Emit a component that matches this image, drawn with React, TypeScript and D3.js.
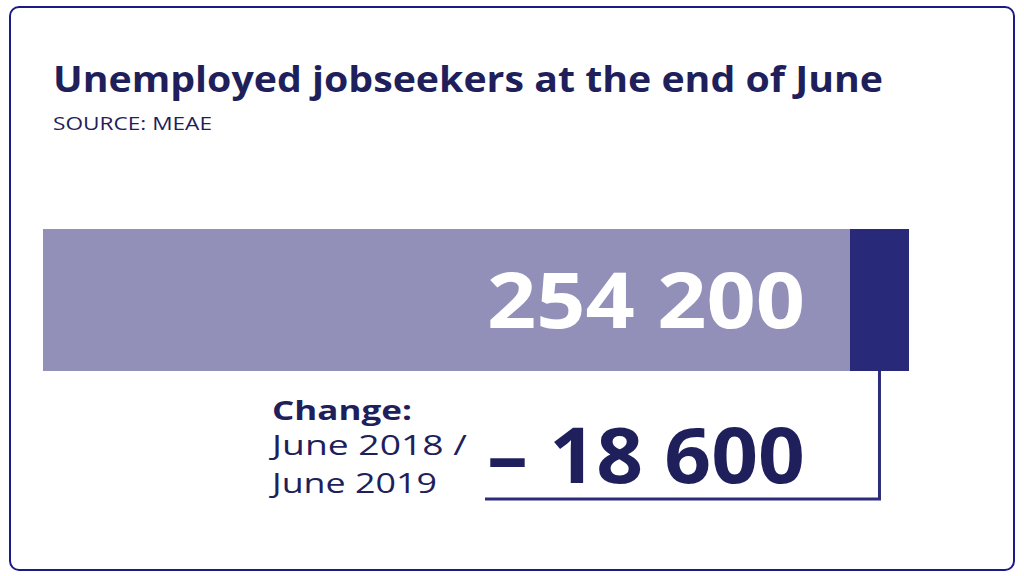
import React from "react";
import * as d3 from "d3";

const title = "Unemployed jobseekers at the end of June";
const source = "SOURCE: MEAE";
const currentValue = 254200;
const changeValue = -18600;
const changeLabels = ["Change:", "June 2018 /", "June 2019"];

const fmt = (v: number) => d3.format(",")(Math.abs(v)).replace(/,/g, " ");

export default function App() {
  const W = 1024, H = 576;
  const prevValue = currentValue - changeValue;
  const x = d3.scaleLinear().domain([0, prevValue]).range([43, 909]);
  const barTop = 229, barBottom = 371;
  const dark = "#29297a";
  const textDark = "#1f1f5c";
  const font = "'Open Sans', sans-serif";
  const connX = (x(currentValue) + x(prevValue)) / 2;
  const connY = 499;
  return (
    <svg width={W} height={H} style={{ position: "absolute", left: 0, top: 0 }}>
      <rect x={0} y={0} width={W} height={H} fill="#fff" />
      <rect x={10} y={7} width={1004} height={563} rx={9} fill="#fff" stroke="#1c1a86" strokeWidth={2} />
      <text x={53} y={92} fontFamily={font} fontWeight={700} fontSize={36} fill={textDark}
        textLength={830} lengthAdjust="spacingAndGlyphs">{title}</text>
      <text x={53} y={130} fontFamily={font} fontSize={18} fill={textDark}
        textLength={159} lengthAdjust="spacingAndGlyphs">{source}</text>
      <rect x={x(0)} y={barTop} width={x(currentValue) - x(0)} height={barBottom - barTop} fill="#9290b8" />
      <rect x={x(currentValue)} y={barTop} width={x(prevValue) - x(currentValue)} height={barBottom - barTop} fill={dark} />
      <text x={805} y={328} textAnchor="end" fontFamily={font} fontWeight={700} fontSize={77} fill="#fff"
        textLength={318} lengthAdjust="spacingAndGlyphs">{fmt(currentValue)}</text>
      <path d={`M${connX},${barBottom} V${connY} H485`} fill="none" stroke="#2c2c7c" strokeWidth={3} />
      <text x={805} y={483} textAnchor="end" fontFamily={font} fontWeight={700} fontSize={77} fill={textDark}
        textLength={318} lengthAdjust="spacingAndGlyphs">{"– " + fmt(changeValue)}</text>
      <text x={272} y={420} fontFamily={font} fontWeight={700} fontSize={27} fill={textDark}
        textLength={140} lengthAdjust="spacingAndGlyphs">{changeLabels[0]}</text>
      <text x={272} y={455} fontFamily={font} fontSize={27} fill={textDark}
        textLength={195} lengthAdjust="spacingAndGlyphs">{changeLabels[1]}</text>
      <text x={272} y={493} fontFamily={font} fontSize={27} fill={textDark}
        textLength={165} lengthAdjust="spacingAndGlyphs">{changeLabels[2]}</text>
    </svg>
  );
}
